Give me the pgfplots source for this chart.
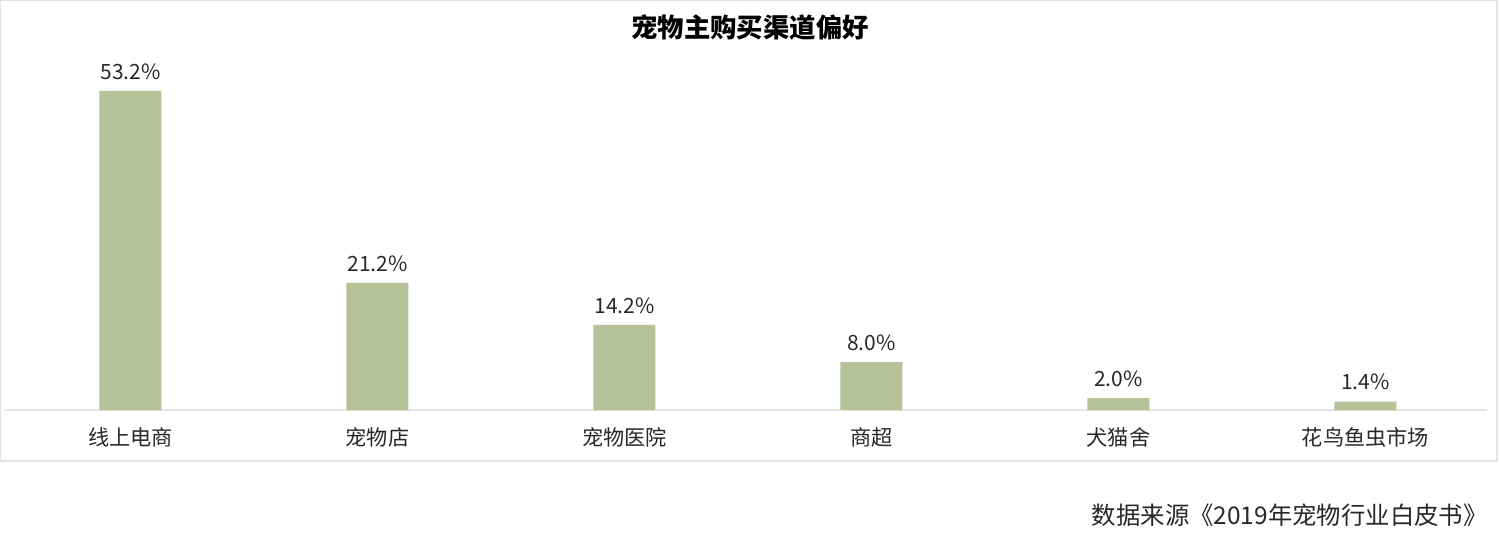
\documentclass[border=0pt]{standalone}
\usepackage{pgfplots}
\pgfplotsset{compat=1.18}
\usepackage{fontspec}
\setmainfont{Noto Sans CJK SC}
\definecolor{barc}{RGB}{182,194,152}
\definecolor{txt}{RGB}{40,40,40}
\definecolor{frame}{RGB}{228,228,228}
\begin{document}
\begin{tikzpicture}
\useasboundingbox (0,0) rectangle (750pt,269pt);
\draw[frame, line width=0.6pt] (0.3pt,38.5pt) rectangle (748.5pt,268.7pt);
\begin{axis}[
  at={(2.5pt,64pt)}, anchor=south west,
  scale only axis, width=741pt, height=180pt,
  xmin=-0.508, xmax=5.492, ymin=0, ymax=60,
  clip=false,
  axis x line=bottom, axis y line=none,
  x axis line style={-, draw=frame, line width=0.8pt},
  xtick={0,...,5},
  xticklabels={线上电商,宠物店,宠物医院,商超,犬猫舍,花鸟鱼虫市场},
  major tick length=0pt,
  xticklabel style={anchor=center, yshift=-13.5pt, font=\fontsize{10.6pt}{12pt}\selectfont, text=txt},
  ytick=\empty,
  /pgf/number format/assume math mode=true,
  ybar, bar width=31pt,
  nodes near coords={\pgfmathprintnumber[fixed,fixed zerofill,precision=1]{\pgfplotspointmeta}\%},
  nodes near coords style={anchor=south, inner sep=0pt, yshift=5.5pt, font=\fontsize{10.5pt}{12pt}\selectfont, text=txt},
]
\addplot[fill=barc, draw=none] coordinates {(0,53.2) (1,21.2) (2,14.2) (3,8.0) (4,2.0) (5,1.4)};
\end{axis}
\node[font=\bfseries\fontsize{13.2pt}{15pt}\selectfont, text=black] at (375pt,255.5pt) {宠物主购买渠道偏好};
\node[anchor=east, inner sep=0pt, font=\fontsize{12.2pt}{14pt}\selectfont, text=txt] at (744pt,11.5pt) {数据来源《2019年宠物行业白皮书》};
\end{tikzpicture}
\end{document}
